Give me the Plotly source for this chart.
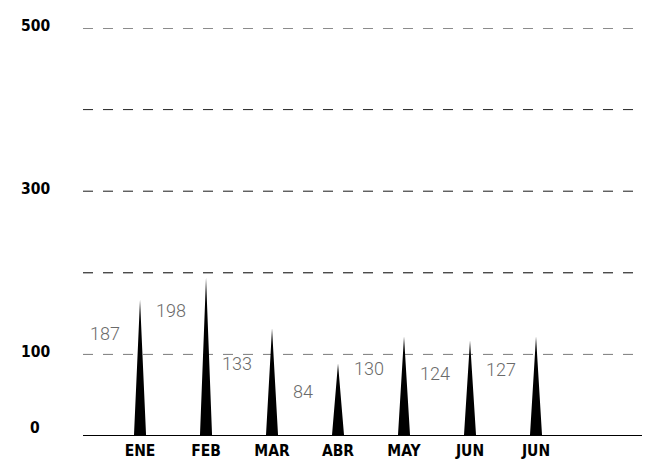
import plotly.graph_objects as go

# ---- data ----
categorias = ["ENE", "FEB", "MAR", "ABR", "MAY", "JUN", "JUN"]
valores = [187, 198, 133, 84, 130, 124, 127]          # printed labels
alturas = [167, 194, 132, 89, 122, 117, 122]          # drawn spike heights
altura_etiqueta = [126, 154, 89, 55, 83, 76, 81]      # vertical level of each label
y_ticks = [0, 100, 300, 500]
grid_vals = [100, 200, 300, 400, 500]

# ---- styling ----
grid_colors = {100: "#7a7a7a", 200: "#000000", 300: "#1a1a1a", 400: "#222222", 500: "#1a1a1a"}
half_w = 0.092   # half width of a spike, in category units
label_dx = -0.53
bold_font = dict(family="Liberation Sans Narrow, DejaVu Sans Condensed, Liberation Sans, sans-serif",
                 size=15.5, color="black", weight="bold")

fig = go.Figure()

# spikes
xs, ys = [], []
for i, h in enumerate(alturas):
    xs += [i - half_w, i, i + half_w, i - half_w, None]
    ys += [0, h, 0, 0, None]
fig.add_trace(go.Scatter(x=xs, y=ys, mode="lines", fill="toself",
                         fillcolor="black", line=dict(width=0, color="black"),
                         hoverinfo="skip", showlegend=False))

shapes = []
for g in grid_vals:
    shapes.append(dict(type="line", xref="paper", yref="y", x0=0, x1=1, y0=g, y1=g,
                       line=dict(color=grid_colors[g], width=1, dash="10px,10px"),
                       layer="below"))
# baseline
shapes.append(dict(type="line", xref="paper", yref="y", x0=0, x1=1, y0=0, y1=0,
                   line=dict(color="black", width=2), layer="above"))

annotations = []
for i, (v, ly) in enumerate(zip(valores, altura_etiqueta)):
    annotations.append(dict(x=i + label_dx, y=ly, xref="x", yref="y", text=str(v),
                            showarrow=False, xanchor="center", yanchor="middle",
                            font=dict(family="Roboto, sans-serif", size=18,
                                      color="#6a6a6a", weight=300)))
for t in y_ticks:
    annotations.append(dict(x=-0.085, y=t, xref="paper", yref="y", text=str(t),
                            showarrow=False, xanchor="center", yanchor="middle",
                            yshift=8 if t == 0 else 2, font=bold_font))

fig.update_layout(
    width=646, height=462,
    margin=dict(l=83, r=4, t=28, b=26, autoexpand=False),
    paper_bgcolor="white", plot_bgcolor="white",
    shapes=shapes, annotations=annotations,
    showlegend=False,
    xaxis=dict(range=[-0.864, 7.606], tickmode="array", tickvals=list(range(len(categorias))),
               ticktext=categorias, showgrid=False, zeroline=False, showline=False,
               ticks="", ticklabelstandoff=3, automargin=False, tickfont=bold_font),
    yaxis=dict(range=[0, 500], showgrid=False, zeroline=False, showline=False,
               showticklabels=False, ticks="", automargin=False),
)

fig.write_html("out.html", config={"displayModeBar": False, "staticPlot": True},
               post_script="document.body.style.margin='0';document.body.style.overflow='hidden';")
